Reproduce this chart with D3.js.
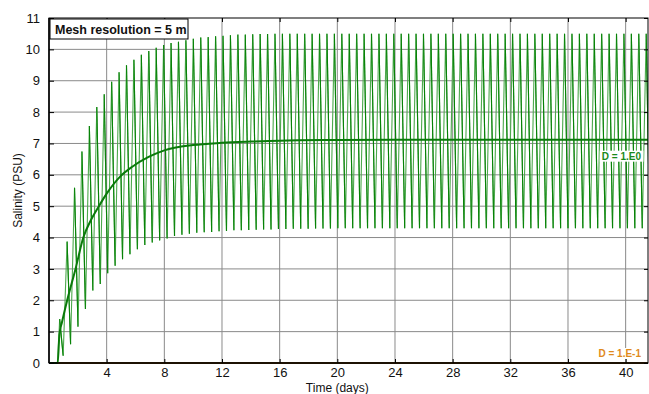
<!DOCTYPE html>
<html>
<head>
<meta charset="utf-8">
<script src="https://cdn.jsdelivr.net/npm/d3@7"></script>
<style>
body { margin: 0; background: #fff; }
svg { font-family: "Liberation Sans", Arial, sans-serif; }
</style>
</head>
<body>
<script>
var xTicks = [4, 8, 12, 16, 20, 24, 28, 32, 36, 40];
var yTicks = [0, 1, 2, 3, 4, 5, 6, 7, 8, 9, 10, 11];

// tidal run, D = 1.E0 : peak and trough of each tide cycle
var firstPeakDay = 0.74, tidalPeriod = 0.515;
var peakValues = [1.4, 3.87, 5.59, 6.74, 7.56, 8.16, 8.57, 8.97, 9.27, 9.49,
	9.67, 9.83, 9.95, 10.05, 10.14, 10.2, 10.24, 10.29, 10.34, 10.38,
	10.39, 10.42, 10.43, 10.45, 10.47, 10.47, 10.48, 10.49, 10.49, 10.5,
	10.5, 10.5, 10.5, 10.5, 10.5, 10.5, 10.5, 10.5, 10.5, 10.5,
	10.5, 10.5, 10.5, 10.5, 10.5, 10.5, 10.5, 10.5, 10.5, 10.5,
	10.5, 10.5, 10.5, 10.5, 10.5, 10.5, 10.5, 10.5, 10.5, 10.5,
	10.5, 10.5, 10.5, 10.5, 10.5, 10.5, 10.5, 10.5, 10.5, 10.5,
	10.5, 10.5, 10.5, 10.5, 10.5, 10.5, 10.5, 10.5, 10.5, 10.5];
var troughValues = [0.23, 0.6, 1.16, 1.72, 2.31, 2.52, 2.86, 3.1, 3.31, 3.47,
	3.63, 3.76, 3.84, 3.91, 3.97, 4.05, 4.09, 4.12, 4.15, 4.17,
	4.18, 4.2, 4.21, 4.23, 4.23, 4.24, 4.25, 4.26, 4.26, 4.27,
	4.27, 4.28, 4.28, 4.28, 4.29, 4.29, 4.29, 4.3, 4.3, 4.3,
	4.3, 4.3, 4.3, 4.3, 4.3, 4.3, 4.3, 4.3, 4.3, 4.3,
	4.3, 4.3, 4.3, 4.3, 4.3, 4.3, 4.3, 4.3, 4.3, 4.3,
	4.3, 4.3, 4.3, 4.3, 4.3, 4.3, 4.3, 4.3, 4.3, 4.3,
	4.3, 4.3, 4.3, 4.3, 4.3, 4.3, 4.3, 4.3, 4.3, 4.3];

// tidally averaged salinity, D = 1.E0
var meanDays = [0, 0.6, 0.72, 0.9, 1.26, 1.84, 2.38, 2.9, 3.46, 4.0, 4.95, 5.75, 6.91, 8, 10, 12, 14, 16, 20, 24, 42];
var meanValues = [0, 0, 0.9, 1.3, 2.0, 3.0, 4.0, 4.55, 5.0, 5.4, 5.95, 6.25, 6.57, 6.78, 6.95, 7.02, 7.06, 7.09, 7.11, 7.12, 7.12];

// D = 1.E-1
var lowDays = [0.6, 42];
var lowValues = [0, 0];

var margin = {top: 18, right: 1, bottom: 31, left: 49},
	width = 649 - margin.left - margin.right,
	height = 394 - margin.top - margin.bottom;

var x = d3.scaleLinear().domain([0, 41.55]).range([0, width]);
var y = d3.scaleLinear().domain([0, 11]).range([height, 0]);

var svg = d3.select("body").append("svg")
	.attr("width", width + margin.left + margin.right)
	.attr("height", height + margin.top + margin.bottom);
var g = svg.append("g")
	.attr("transform", "translate(" + margin.left + "," + margin.top + ")");

g.append("clipPath").attr("id", "clip")
	.append("rect").attr("width", width).attr("height", height + 2).attr("y", -1);

// grid
g.selectAll(".vgrid").data(xTicks).enter().append("line")
	.attr("x1", function(d) { return x(d); }).attr("x2", function(d) { return x(d); })
	.attr("y1", 0).attr("y2", height)
	.attr("stroke", "#8a8a8a").attr("stroke-width", 1);
g.selectAll(".hgrid").data(yTicks.slice(1, -1)).enter().append("line")
	.attr("y1", function(d) { return y(d); }).attr("y2", function(d) { return y(d); })
	.attr("x1", 0).attr("x2", width)
	.attr("stroke", "#8a8a8a").attr("stroke-width", 1);

// build tide series
var tide = [[0, 0], [0.6, 0]];
peakValues.forEach(function(p, i) {
	var t = firstPeakDay + i * tidalPeriod;
	tide.push([t, p]);
	tide.push([t + 0.47 * tidalPeriod, troughValues[i]]);
});

var line = d3.line()
	.x(function(d) { return x(d[0]); })
	.y(function(d) { return y(d[1]); });

var plot = g.append("g").attr("clip-path", "url(#clip)");

plot.append("path").datum(tide)
	.attr("fill", "none").attr("stroke", "#4da94d").attr("stroke-width", 1.1)
	.attr("d", line);

// falling limbs drawn darker
var falls = [];
for (var i = 2; i < tide.length - 1; i += 2) falls.push([tide[i], tide[i + 1]]);
plot.selectAll(".fall").data(falls).enter().append("path")
	.attr("fill", "none").attr("stroke", "#078207").attr("stroke-width", 1.1)
	.attr("d", line);

var mean = meanDays.map(function(d, i) { return [d, meanValues[i]]; });
plot.append("path").datum(mean)
	.attr("fill", "none").attr("stroke", "#0a7a0a").attr("stroke-width", 2)
	.attr("d", d3.line().curve(d3.curveMonotoneX)
		.x(function(d) { return x(d[0]); }).y(function(d) { return y(d[1]); }));

var low = lowDays.map(function(d, i) { return [d, lowValues[i]]; });
plot.append("path").datum(low)
	.attr("fill", "none").attr("stroke", "#e08a1c").attr("stroke-width", 2.2)
	.attr("d", line);

// frame
g.append("rect").attr("width", width).attr("height", height)
	.attr("fill", "none").attr("stroke", "#000").attr("stroke-width", 1);
g.append("line").attr("x1", 0).attr("x2", 0).attr("y1", 0).attr("y2", height)
	.attr("stroke", "#000").attr("stroke-width", 1.5);
g.append("line").attr("x1", 0).attr("x2", width).attr("y1", height).attr("y2", height)
	.attr("stroke", "#000").attr("stroke-width", 1.5);

// axes with inner ticks
var xAxis = g.append("g")
	.attr("transform", "translate(0," + height + ")")
	.call(d3.axisBottom(x).tickValues(xTicks).tickSize(-4).tickPadding(5));
var xTop = g.append("g")
	.call(d3.axisTop(x).tickValues(xTicks).tickSize(-4).tickFormat(""));
var yAxis = g.append("g")
	.call(d3.axisLeft(y).tickValues(yTicks).tickSize(-5).tickPadding(9));
var yRight = g.append("g")
	.attr("transform", "translate(" + width + ",0)")
	.call(d3.axisRight(y).tickValues(yTicks).tickSize(-4).tickFormat(""));
[xAxis, xTop, yAxis, yRight].forEach(function(a) {
	a.select(".domain").remove();
	a.selectAll("line").attr("stroke", "#000");
	a.selectAll("text").attr("font-size", 13).attr("fill", "#111")
		.attr("font-family", "Liberation Sans, Arial, sans-serif");
});

svg.append("text")
	.attr("x", margin.left + x(20)).attr("y", 392)
	.attr("text-anchor", "middle").attr("font-size", 12).attr("fill", "#111")
	.text("Time (days)");
svg.append("text")
	.attr("transform", "translate(22," + (margin.top + y(5.5)) + ") rotate(-90)")
	.attr("text-anchor", "middle").attr("font-size", 12).attr("fill", "#111")
	.text("Salinity (PSU)");

// title box
g.append("rect").attr("x", 1).attr("y", 1).attr("width", 138).attr("height", 20)
	.attr("fill", "#fff").attr("stroke", "#000").attr("stroke-width", 1);
g.append("text").attr("x", 6).attr("y", 15.5)
	.attr("font-size", 12.5).attr("font-weight", "bold").attr("fill", "#111")
	.text("Mesh resolution = 5 m");

// series labels
function label(txt, yy, col) {
	var t = g.append("text").attr("x", width - 7).attr("y", yy)
		.attr("text-anchor", "end").attr("font-size", 10).attr("font-weight", "bold")
		.attr("fill", col).text(txt);
	var b = t.node().getBBox();
	g.insert("rect", function() { return t.node(); })
		.attr("x", b.x - 2).attr("y", b.y).attr("width", b.width + 4).attr("height", b.height)
		.attr("fill", "#fff");
}
label("D = 1.E0", y(7.12) + 20, "#1a8a1a");
label("D = 1.E-1", y(0) - 6, "#e08a1c");
</script>
</body>
</html>
